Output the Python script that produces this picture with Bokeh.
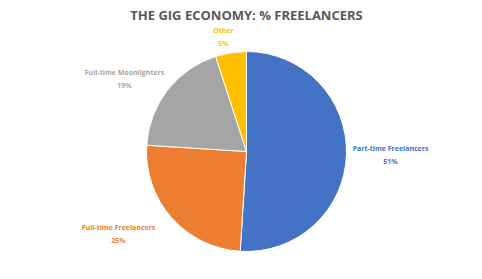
import math
from bokeh.plotting import figure
from bokeh.models import ColumnDataSource, Range1d
from bokeh.core.properties import value
from bokeh.embed import file_html
from bokeh.resources import INLINE

categories = ["Part-time Freelancers", "Full-time Freelancers", "Full-time Moonlighters", "Other"]
shares = [51, 25, 19, 5]
colors = ["#4472C4", "#ED7D31", "#A5A5A5", "#FFC000"]
title_text = "THE GIG ECONOMY: % FREELANCERS"

W, H = 466, 263
cx, cy, R = 246, 112, 100
# label placement: offset of label centre from pie centre (pixels)
label_off = [(144, -3), (-128, -82), (-122, 73), (-23, 115)]

total = float(sum(shares))
starts, ends, cum = [], [], 0.0
for s in shares:
    starts.append(math.pi / 2 - 2 * math.pi * cum / total)
    cum += s
    ends.append(math.pi / 2 - 2 * math.pi * cum / total)

src = ColumnDataSource(dict(start=starts, end=ends, color=colors))

p = figure(width=W, height=H, output_backend="svg", toolbar_location=None,
           x_range=Range1d(0, W), y_range=Range1d(0, H), min_border=0)
p.axis.visible = False
p.grid.visible = False
p.outline_line_color = None
p.background_fill_color = "white"
p.border_fill_color = "white"

p.wedge(x=cx, y=cy, radius=R, start_angle="start", end_angle="end", direction="clock",
        fill_color="color", line_color="white", line_width=1, source=src)

lx, ly1, ly2, t1, t2, tc = [], [], [], [], [], []
for cat, s, col, (dx, dy) in zip(categories, shares, colors, label_off):
    x = cx + dx
    y = cy + dy
    lx.append(x); ly1.append(y + 6.5); ly2.append(y - 6.5)
    t1.append(cat); t2.append(f"{s}%"); tc.append(col)

lsrc = ColumnDataSource(dict(x=lx, y1=ly1, y2=ly2, t1=t1, t2=t2, c=tc))
p.text(x="x", y="y1", text="t1", text_color="c", source=lsrc, text_font=value("Open Sans"),
       text_font_size="7px", text_font_style="bold", text_align="center", text_baseline="middle")
p.text(x="x", y="y2", text="t2", text_color="c", source=lsrc, text_font=value("Open Sans"),
       text_font_size="7px", text_font_style="bold", text_align="center", text_baseline="middle")

p.text(x=[246], y=[249], text=[title_text], text_color="#595959", text_font=value("Open Sans"),
       text_font_size="13px", text_font_style="bold", text_align="center", text_baseline="middle")

open("out.html", "w").write(file_html(p, INLINE))
